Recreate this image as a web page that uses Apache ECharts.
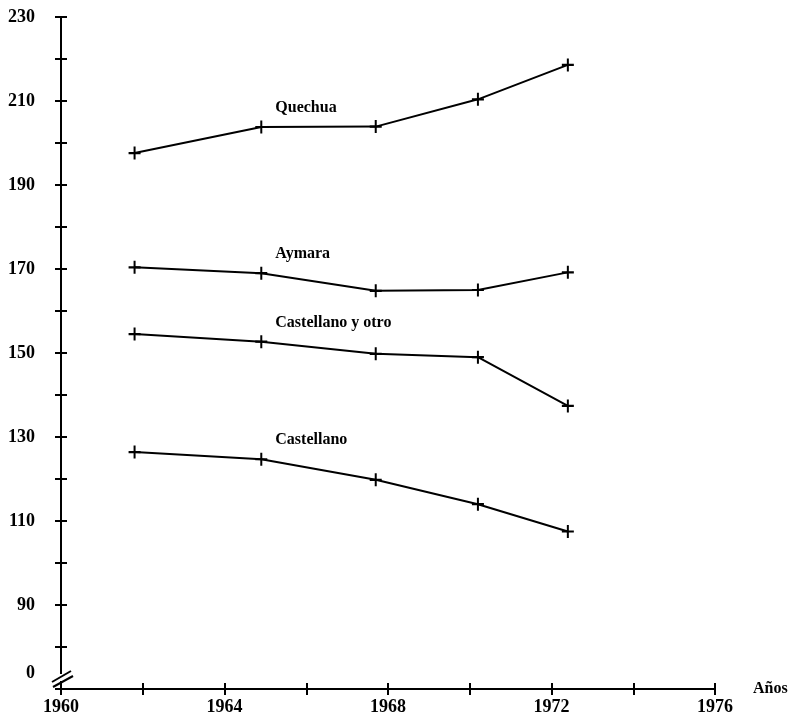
<!DOCTYPE html>
<html>
<head>
<meta charset="utf-8">
<script src="https://cdn.jsdelivr.net/npm/echarts@6/dist/echarts.min.js"></script>
<style>
html,body{margin:0;padding:0;background:#fff;}
#c{width:795px;height:718px;}
</style>
</head>
<body>
<div id="c"></div>
<script>
// ---- data ----
const years = [1961.8, 1964.9, 1967.7, 1970.2, 1972.4];
const seriesNames = ['Quechua', 'Aymara', 'Castellano y otro', 'Castellano'];
const quechua = [197.6, 203.8, 203.9, 210.4, 218.6];
const aymara = [170.4, 169.0, 164.8, 165.0, 169.2];
const castellanoOtro = [154.5, 152.7, 149.8, 149.0, 137.4];
const castellano = [126.4, 124.7, 119.8, 114.0, 107.5];
const xTickLabels = [1960, 1964, 1968, 1972, 1976];
const yTickLabels = [90, 110, 130, 150, 170, 190, 210, 230];
const yBreakLabel = '0';
const xAxisName = 'Años';

const FONT = 'Liberation Serif';
const allValues = [quechua, aymara, castellanoOtro, castellano];
const crossPath = 'path://M-1,-6L1,-6L1,-1L6,-1L6,1L1,1L1,6L-1,6L-1,1L-6,1L-6,-1L-1,-1Z';

const chart = echarts.init(document.getElementById('c'));

const series = seriesNames.map((name, si) => ({
  name: name,
  type: 'line',
  xAxisIndex: 0,
  yAxisIndex: 0,
  symbol: crossPath,
  symbolSize: [12, 13],
  showSymbol: true,
  lineStyle: {color: '#000', width: 2},
  itemStyle: {color: '#000'},
  z: 5,
  data: years.map((y, i) => {
    const item = {value: [y, allValues[si][i]]};
    if (i === 1) {
      item.label = {
        show: true,
        formatter: name,
        position: 'inside',
        align: 'left',
        verticalAlign: 'middle',
        offset: [14, -19],
        color: '#000',
        fontFamily: FONT,
        fontWeight: 'bold',
        fontSize: 16
      };
    }
    return item;
  })
}));

const axisLineStyle = {show: true, lineStyle: {color: '#000', width: 2}};
const tickStyle = {lineStyle: {color: '#000', width: 2}, length: 6};

const option = {
  animation: false,
  backgroundColor: '#fff',
  grid: {left: 61, right: 80, top: 17, bottom: 29, containLabel: false},
  xAxis: [{
    type: 'value', min: 1960, max: 1976, interval: 2,
    position: 'bottom', offset: 0,
    axisLine: axisLineStyle,
    axisTick: Object.assign({show: true, inside: false}, tickStyle),
    splitLine: {show: false},
    axisLabel: {
      margin: 9,
      color: '#000', fontFamily: FONT, fontWeight: 'bold', fontSize: 18,
      formatter: v => xTickLabels.indexOf(v) >= 0 ? String(v) : ''
    },
    name: xAxisName,
    nameLocation: 'end',
    nameGap: 38,
    nameTextStyle: {
      color: '#000', fontFamily: FONT, fontWeight: 'bold', fontSize: 16,
      align: 'left', verticalAlign: 'middle', padding: [36, 0, 0, 0]
    }
  }, {
    type: 'value', min: 1960, max: 1976, interval: 2,
    position: 'bottom', offset: 0,
    axisLine: {show: false},
    axisTick: Object.assign({show: true, inside: true}, tickStyle),
    splitLine: {show: false},
    axisLabel: {show: false}
  }],
  yAxis: [{
    type: 'value', min: 70, max: 230, interval: 10,
    position: 'left', offset: 0,
    axisLine: axisLineStyle,
    axisTick: Object.assign({show: true, inside: false}, tickStyle),
    splitLine: {show: false},
    axisLabel: {
      margin: 26,
      color: '#000', fontFamily: FONT, fontWeight: 'bold', fontSize: 18,
      formatter: v => v === 70 ? '{z|' + yBreakLabel + '}' : (yTickLabels.indexOf(v) >= 0 ? String(v) : ''),
      rich: {
        z: {color: '#000', fontFamily: FONT, fontWeight: 'bold', fontSize: 18, padding: [0, 0, 32, 0]}
      }
    }
  }, {
    type: 'value', min: 70, max: 230, interval: 10,
    position: 'left', offset: 0,
    axisLine: {show: false},
    axisTick: Object.assign({show: true, inside: true}, tickStyle),
    splitLine: {show: false},
    axisLabel: {show: false}
  }],
  series: series
};

chart.setOption(option);

// axis-break marks at the origin
const o = chart.convertToPixel({xAxisIndex: 0, yAxisIndex: 0}, [1960, 70]);
chart.setOption({
  graphic: [
    {type: 'rect', shape: {x: o[0] - 3, y: o[1] - 15, width: 6, height: 7}, style: {fill: '#fff'}, z: 10},
    {type: 'line', shape: {x1: o[0] - 9, y1: o[1] - 7, x2: o[0] + 10, y2: o[1] - 18}, style: {stroke: '#000', lineWidth: 2}, z: 11},
    {type: 'line', shape: {x1: o[0] - 8, y1: o[1] - 2, x2: o[0] + 12, y2: o[1] - 13}, style: {stroke: '#000', lineWidth: 2}, z: 11}
  ]
});
</script>
</body>
</html>
